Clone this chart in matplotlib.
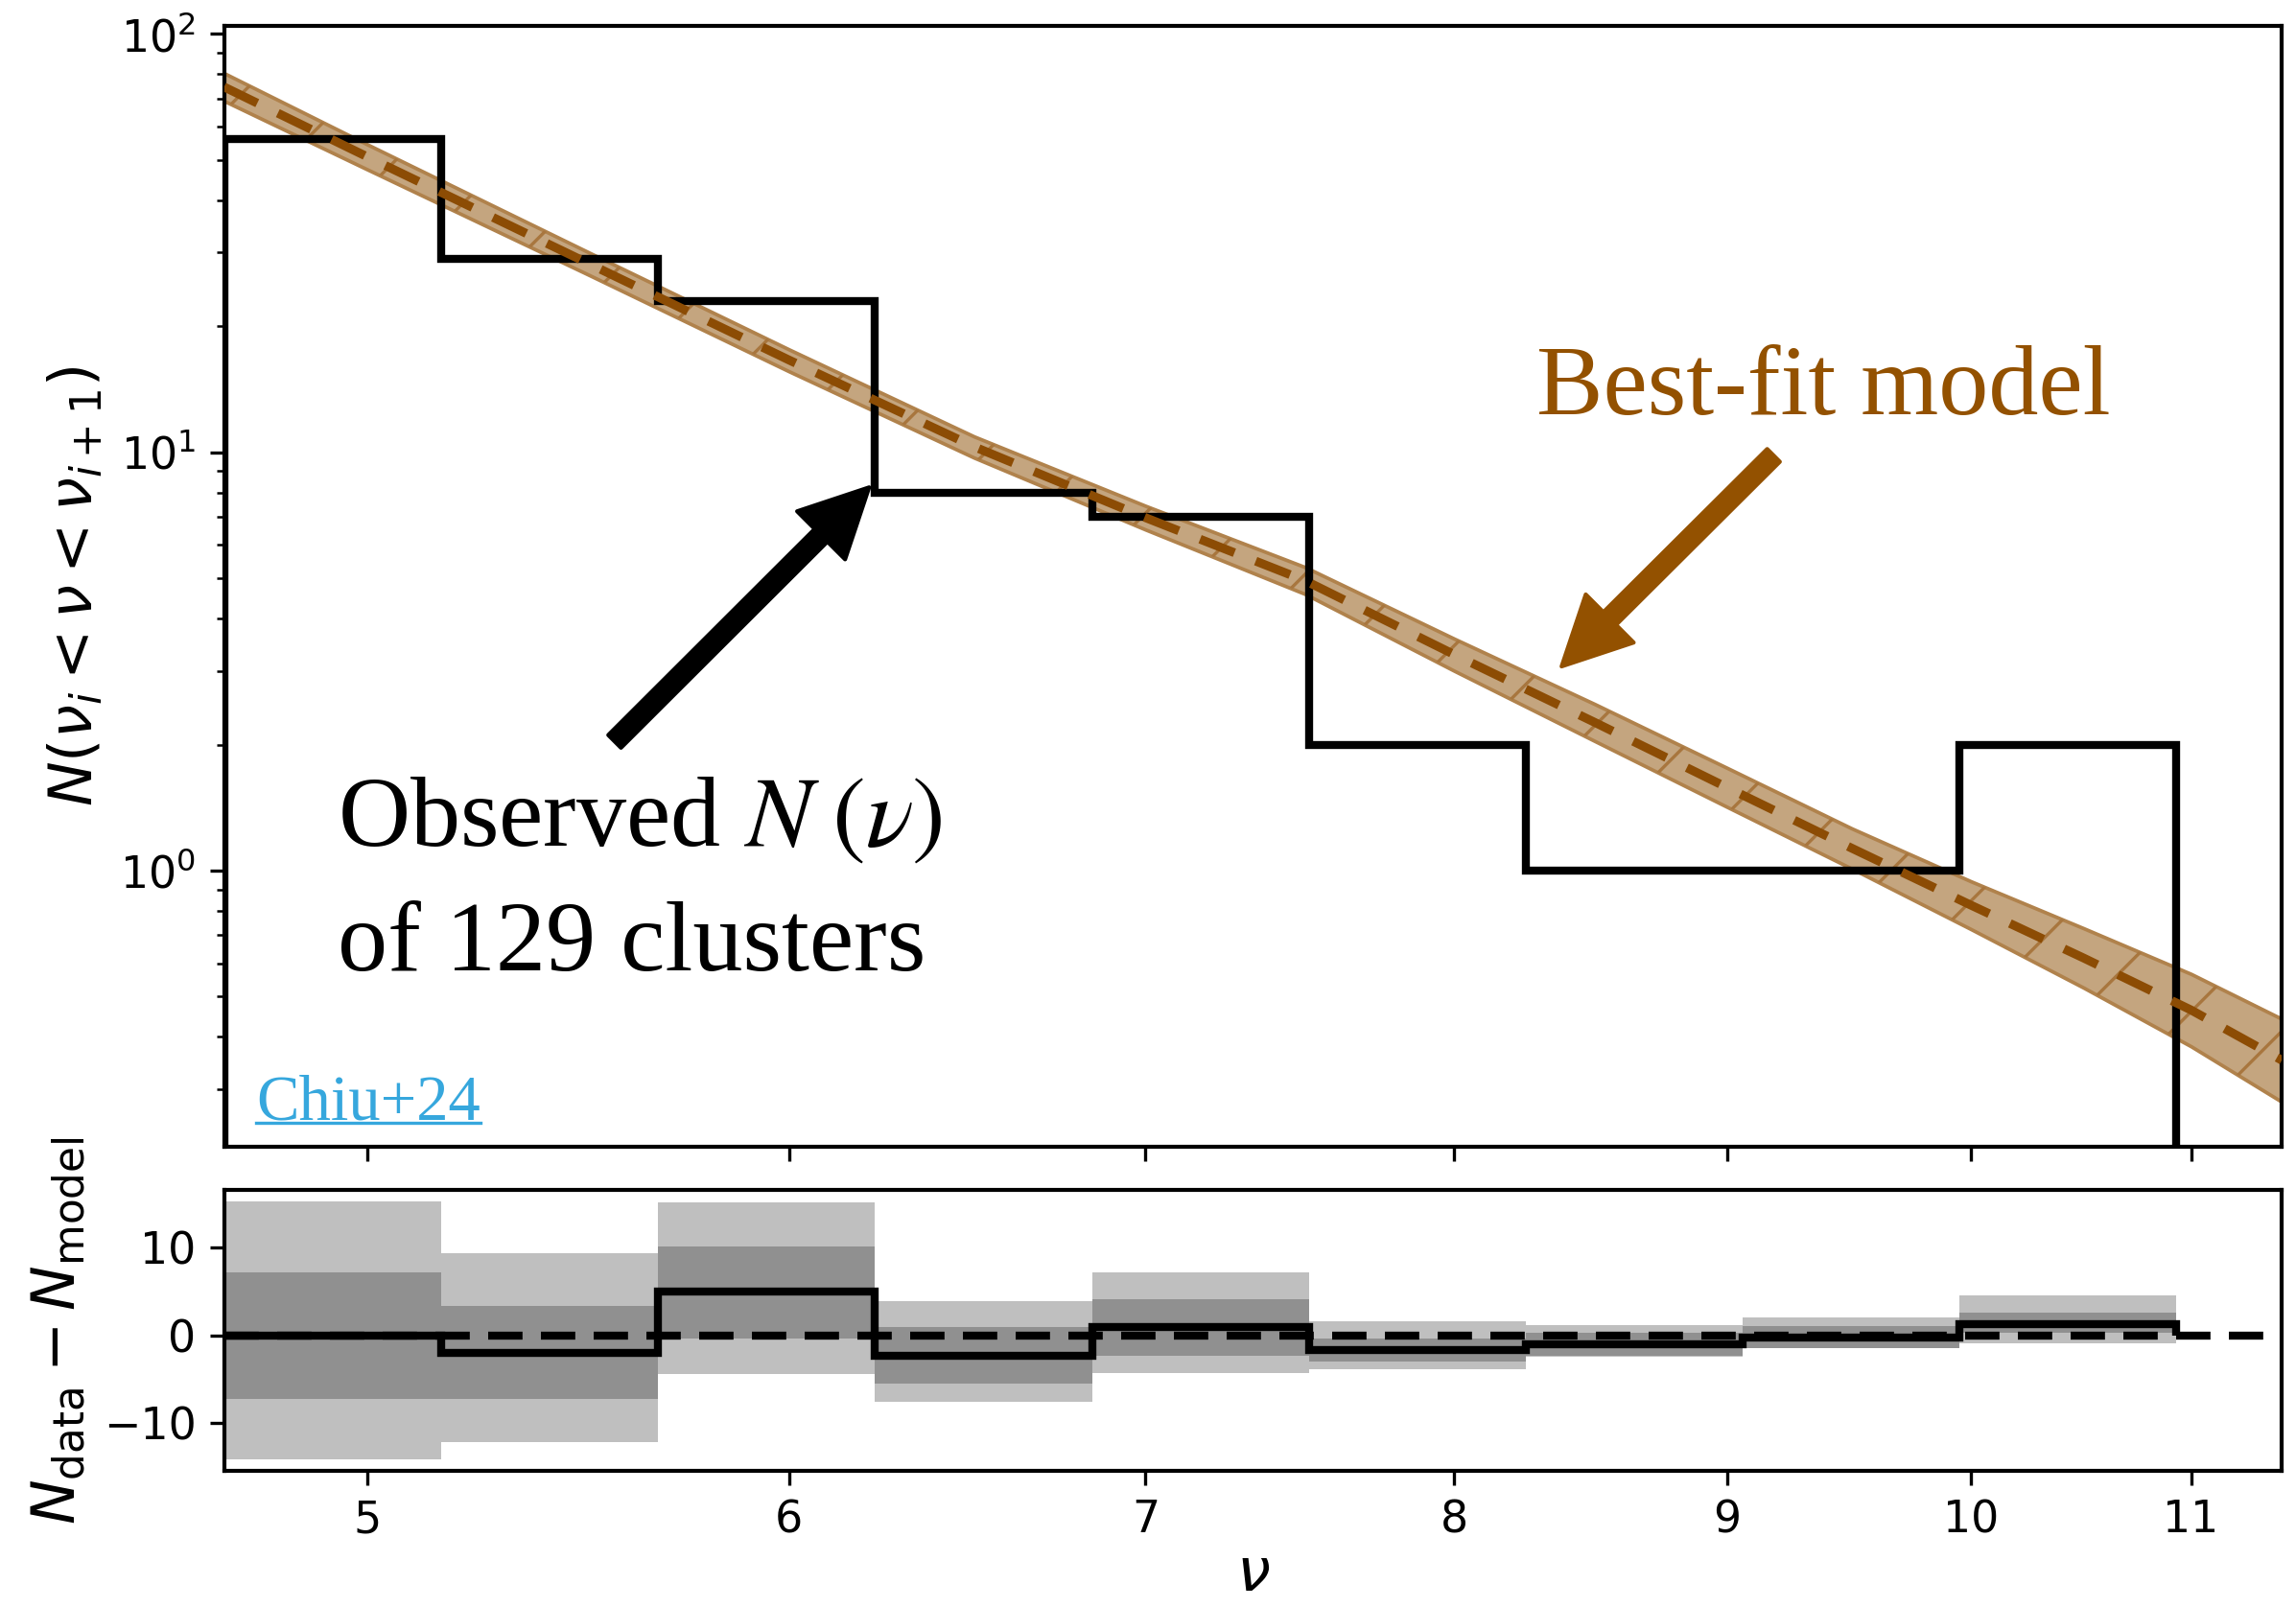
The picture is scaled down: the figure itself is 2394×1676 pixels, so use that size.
import numpy as np
import matplotlib
matplotlib.use("Agg")
import matplotlib.pyplot as plt
from matplotlib.ticker import FixedLocator, FixedFormatter, NullLocator
from matplotlib.collections import LineCollection
from matplotlib.lines import Line2D

# histogram of the observed sample (log-spaced bins in nu)
edges = [4.70, 5.163, 5.670, 6.227, 6.840, 7.512, 8.251, 9.062, 9.951, 10.93]
counts = [56, 29, 23, 8, 7, 2, 1, 1, 2]

# best-fit model curve and its uncertainty band
nu_model = [4.7, 5.0, 5.5, 6.0, 6.5, 7.0, 7.5, 8.0, 8.5, 9.0, 9.5, 10.0, 10.5, 11.0, 11.44]
n_model = [74.6, 50.8, 28.3, 16.6, 10.3, 6.97, 4.93, 3.28, 2.26, 1.58, 1.13, 0.827, 0.618, 0.464, 0.352]
n_model_lo = [69.1, 47.4, 26.6, 15.6, 9.7, 6.53, 4.58, 3.00, 2.04, 1.42, 1.01, 0.725, 0.525, 0.380, 0.280]
n_model_hi = [80.5, 54.4, 30.1, 17.6, 10.9, 7.44, 5.31, 3.58, 2.50, 1.76, 1.26, 0.943, 0.728, 0.566, 0.442]

# residuals N_data - N_model per bin, with 1 and 2 sigma ranges
resid = [0.0, -2.0, 4.95, -2.33, 0.91, -1.64, -1.06, -0.29, 1.24]
dark_lo = [-7.24, -7.24, -0.40, -5.54, -2.37, -2.95, -2.37, -1.46, 0.25]
dark_hi = [7.24, 3.30, 10.14, 0.95, 4.12, -0.40, 0.30, 1.06, 2.55]
light_lo = [-14.2, -12.19, -4.43, -7.61, -4.34, -3.83, -2.45, -1.50, -0.95]
light_hi = [15.29, 9.34, 15.17, 3.93, 7.14, 1.64, 1.17, 2.08, 4.55]

xticks = [5, 6, 7, 8, 9, 10, 11]

brown = "#935100"
serif = ["Liberation Serif", "DejaVu Serif"]

plt.rcParams["axes.linewidth"] = 1.0
plt.rcParams["xtick.labelsize"] = 11
plt.rcParams["ytick.labelsize"] = 11

fig = plt.figure(figsize=(7.98, 5.5867), dpi=300)
ax = fig.add_axes([0.0976, 0.2866, 0.8962, 0.6974])
axr = fig.add_axes([0.0976, 0.0847, 0.8962, 0.1748])

# ---- top panel ----
ax.set_xscale("log")
ax.set_yscale("log")

band = ax.fill_between(nu_model, n_model_lo, n_model_hi, facecolor="#c4a57f",
                       edgecolor="#b0824c", linewidth=0.9, zorder=1)

# sparse diagonal hatching inside the band
W, H = 0.8962 * 2394, 0.6974 * 1676
step = 115.0 / W
offs = np.arange(-1.2, 1.2, step)
segs = [[(c, 0.0), (c + H / W, 1.0)] for c in offs]
hatch = LineCollection(segs, colors="#a8763e", linewidths=0.8,
                       transform=ax.transAxes, zorder=1.5)
hatch.set_clip_path(band.get_paths()[0], ax.transData)
ax.add_collection(hatch)

ax.stairs(counts, edges, baseline=1e-3, color="k", lw=2, zorder=2)
ax.plot(nu_model, n_model, color="#8c4c04", lw=2.2, dashes=(4.2, 2.6), zorder=3)

ax.set_xlim(4.7, 11.44)
ax.set_ylim(0.219, 104.5)
ax.xaxis.set_major_locator(FixedLocator(xticks))
ax.xaxis.set_minor_locator(NullLocator())
ax.tick_params(axis="x", labelbottom=False)
ax.set_ylabel(r"$N(\nu_i < \nu < \nu_{i+1})$", fontsize=15)

ax.annotate("", xy=(0.3135, 0.5881), xycoords="axes fraction",
            xytext=(0.1898, 0.3614), textcoords="axes fraction",
            arrowprops=dict(facecolor="k", edgecolor="k", width=4.5,
                            headwidth=17, headlength=17, shrink=0))
ax.annotate("", xy=(0.650, 0.4283), xycoords="axes fraction",
            xytext=(0.753, 0.6166), textcoords="axes fraction",
            arrowprops=dict(facecolor=brown, edgecolor=brown, width=4.5,
                            headwidth=17, headlength=17, shrink=0))

ax.text(0.638, 0.6536, "Best-fit model", transform=ax.transAxes, color=brown,
        fontsize=25, family=serif, va="baseline")
ax.text(0.055, 0.2686, r"Observed $N\;(\nu)$", transform=ax.transAxes,
        fontsize=25, family=serif, va="baseline", math_fontfamily="stix")
ax.text(0.055, 0.1574, "of 129 clusters", transform=ax.transAxes,
        fontsize=25, family=serif, va="baseline")

cite = ax.text(0.0156, 0.0244, "Chiu+24", transform=ax.transAxes, color="#36a7dd",
               fontsize=16, family=serif, va="baseline")
fig.canvas.draw()
bb = cite.get_window_extent(fig.canvas.get_renderer())
base_y = ax.transAxes.transform((0.0156, 0.0244))[1] - 4
fig.add_artist(Line2D([bb.x0 / fig.bbox.width, bb.x1 / fig.bbox.width],
                      [base_y / fig.bbox.height] * 2, color="#36a7dd", lw=0.8))

# ---- residual panel ----
axr.set_xscale("log")
axr.stairs(light_hi, edges, baseline=light_lo, fill=True, color="#bfbfbf", lw=0, zorder=1)
axr.stairs(dark_hi, edges, baseline=dark_lo, fill=True, color="#909090", lw=0, zorder=1.2)
axr.stairs(resid, edges, baseline=0, color="k", lw=2, zorder=2)
axr.axhline(0, color="k", lw=2, dashes=(4.3, 2.3), zorder=3)

axr.set_xlim(4.7, 11.44)
axr.set_ylim(-15.5, 16.6)
axr.set_yticks([-10, 0, 10])
axr.xaxis.set_major_locator(FixedLocator(xticks))
axr.xaxis.set_major_formatter(FixedFormatter([str(t) for t in xticks]))
axr.xaxis.set_minor_locator(NullLocator())
axr.set_xlabel(r"$\nu$", fontsize=15, labelpad=1)
axr.set_ylabel(r"$N_{\rm data} - N_{\rm model}$", fontsize=15)

fig.savefig("out.png", dpi=300)
